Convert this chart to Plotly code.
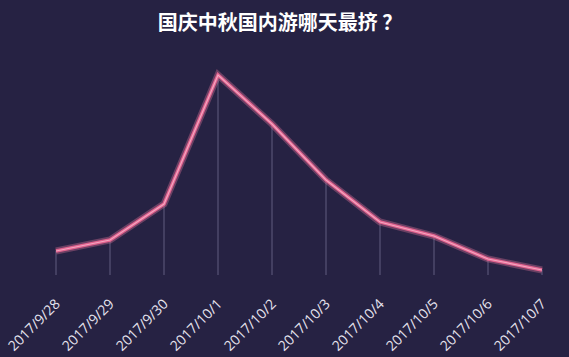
import plotly.graph_objects as go

# Daily domestic travel crowding index over the National Day / Mid-Autumn holiday
dates = ["2017/9/28", "2017/9/29", "2017/9/30", "2017/10/1", "2017/10/2",
         "2017/10/3", "2017/10/4", "2017/10/5", "2017/10/6", "2017/10/7"]
crowd_index = [2.4, 3.5, 7.1, 20.0, 15.1, 9.5, 5.3, 3.9, 1.6, 0.5]

title_text = "国庆中秋国内游哪天最挤 ？"

BG = "#262243"
idx = list(range(len(dates)))

fig = go.Figure()

# thin drop lines from each point down to the baseline
fig.add_trace(go.Scatter(
    x=idx, y=crowd_index, mode="markers",
    marker=dict(size=1, color="rgba(0,0,0,0)"),
    error_y=dict(type="data", symmetric=False, array=[0] * len(idx),
                 arrayminus=crowd_index, width=0, thickness=1,
                 color="rgba(170,165,200,0.45)"),
    hoverinfo="skip", showlegend=False,
))

# soft glow under the main line
fig.add_trace(go.Scatter(
    x=idx, y=crowd_index, mode="lines",
    line=dict(color="rgba(235,120,160,0.35)", width=7),
    hoverinfo="skip", showlegend=False,
))
# main pink line
fig.add_trace(go.Scatter(
    x=idx, y=crowd_index, mode="lines",
    line=dict(color="#e2628f", width=3.5),
    showlegend=False,
))
# light highlight in the centre of the line
fig.add_trace(go.Scatter(
    x=idx, y=crowd_index, mode="lines",
    line=dict(color="#f3a6c0", width=1.2),
    hoverinfo="skip", showlegend=False,
))

fig.update_layout(
    width=569, height=357,
    paper_bgcolor=BG, plot_bgcolor=BG,
    margin=dict(l=0, r=0, t=0, b=79),
    title=dict(text=f"<b>{title_text}</b>", x=0.492, xanchor="center",
               y=0.935, yanchor="middle",
               font=dict(family="Noto Sans CJK SC", size=20, color="#ffffff")),
    xaxis=dict(
        tickmode="array", tickvals=idx, ticktext=dates,
        tickangle=-45, range=[-1.037, 9.5],
        showgrid=False, zeroline=False, showline=False, ticks="",
        ticklabelstandoff=14,
        tickfont=dict(family="Open Sans", size=14, color="#e6e4ef"),
    ),
    yaxis=dict(range=[-0.3, 27.5], showgrid=False, zeroline=False,
               showline=False, showticklabels=False, ticks=""),
)

fig.write_html("out.html")
